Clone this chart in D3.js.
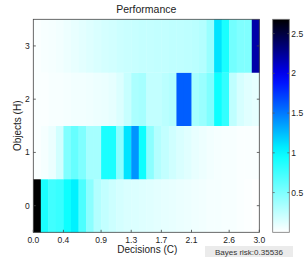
<!DOCTYPE html>
<html>
<head>
<meta charset="utf-8">
<script src="https://cdn.jsdelivr.net/npm/d3@7"></script>
<style>
  body { margin: 0; background: #fff; }
  text { font-family: "Liberation Sans", Arial, sans-serif; fill: #222; }
</style>
</head>
<body>
<div id="chart"></div>
<script>
// decisions (C): 30 bins of 0.1 from 0 to 3, objects (H): 0..3
var objects = [0, 1, 2, 3];
var xTicks = [0.0, 0.4, 0.9, 1.3, 1.7, 2.1, 2.6, 3.0];
var cbTicks = [0.5, 1, 1.5, 2, 2.5];
var binWidth = 0.1;

var row0 = [2.68, 0.9, 0.75, 0.78, 0.95, 1.05, 0.7, 0.45, 0.3, 0.24, 0.2, 0.17, 0.15, 0.14, 0.13, 0.12, 0.11, 0.1, 0.09, 0.08, 0.07, 0.06, 0.05, 0.04, 0.04, 0.03, 0.03, 0.02, 0.01, 0.0];
var row1 = [0.02, 0.04, 0.08, 0.18, 0.5, 0.6, 0.5, 0.35, 0.35, 0.9, 0.9, 0.45, 1.1, 1.4, 0.95, 0.45, 0.3, 0.24, 0.19, 0.15, 0.12, 0.09, 0.07, 0.05, 0.04, 0.03, 0.03, 0.02, 0.02, 0.02];
var row2 = [0.02, 0.02, 0.03, 0.03, 0.04, 0.05, 0.05, 0.06, 0.07, 0.08, 0.1, 0.14, 0.22, 0.33, 0.35, 0.24, 0.24, 0.27, 0.3, 1.6, 1.6, 0.35, 0.4, 0.5, 0.95, 0.8, 0.25, 0.16, 0.12, 0.1];
var row3 = [0.02, 0.03, 0.04, 0.05, 0.07, 0.09, 0.11, 0.13, 0.15, 0.17, 0.18, 0.2, 0.21, 0.22, 0.23, 0.23, 0.24, 0.24, 0.25, 0.25, 0.26, 0.27, 0.3, 0.4, 1.1, 0.9, 0.55, 0.5, 0.5, 2.2];
var rows = [row0, row1, row2, row3];
var bayesRisk = "0.35536";

var W = 306, H = 262;
var margin = {top: 19.3, left: 33.3, right: 46.7, bottom: 29.7};
var width = W - margin.left - margin.right,
    height = H - margin.top - margin.bottom;

var svg = d3.select("#chart").append("svg")
    .attr("width", W).attr("height", H);

var g = svg.append("g")
    .attr("transform", "translate(" + margin.left + "," + margin.top + ")");

var x = d3.scaleLinear().domain([0, 3]).range([0, width]);
var y = d3.scaleLinear().domain([-0.5, 3.5]).range([height, 0]);

var allVals = d3.merge(rows);
var vMin = d3.min(allVals), vMax = d3.max(allVals);
var color = d3.scaleLinear()
    .domain([vMin, 1.0, 1.95, vMax])
    .range(["#ffffff", "#00ffff", "#0000ff", "#000000"]);

var cells = [];
rows.forEach(function (r, i) {
    r.forEach(function (v, j) {
        cells.push({obj: objects[i], x0: j * binWidth, v: v});
    });
});

g.selectAll(".cell")
    .data(cells)
    .enter().append("rect")
    .attr("class", "cell")
    .attr("x", d => x(d.x0))
    .attr("y", d => y(d.obj + 0.5))
    .attr("width", x(binWidth) - x(0) + 0.4)
    .attr("height", y(-0.5) - y(0.5) + 0.2)
    .attr("fill", d => color(d.v));

// box
g.append("rect")
    .attr("width", width).attr("height", height)
    .attr("fill", "none").attr("stroke", "#444").attr("stroke-width", 0.8);

// x axis (inside ticks)
var xAxis = g.append("g").attr("transform", "translate(0," + height + ")");
xAxis.selectAll("line").data(xTicks).enter().append("line")
    .attr("x1", d => x(d)).attr("x2", d => x(d))
    .attr("y1", 0).attr("y2", -2.5)
    .attr("stroke", "#444").attr("stroke-width", 0.8);
xAxis.selectAll("text").data(xTicks).enter().append("text")
    .attr("x", d => x(d)).attr("y", 11)
    .attr("text-anchor", "middle")
    .attr("font-size", 8.5)
    .text(d => d.toFixed(1));

// y axis ticks left and right
var yAxis = g.append("g");
yAxis.selectAll(".tl").data(objects).enter().append("line")
    .attr("x1", 0).attr("x2", 2.5)
    .attr("y1", d => y(d)).attr("y2", d => y(d))
    .attr("stroke", "#444").attr("stroke-width", 0.8);
yAxis.selectAll(".tr").data(objects).enter().append("line")
    .attr("x1", width).attr("x2", width - 2.5)
    .attr("y1", d => y(d)).attr("y2", d => y(d))
    .attr("stroke", "#444").attr("stroke-width", 0.8);
yAxis.selectAll("text").data(objects).enter().append("text")
    .attr("x", -3.5).attr("y", d => y(d) + 3)
    .attr("text-anchor", "end")
    .attr("font-size", 8.5)
    .text(d => d);

// labels
svg.append("text")
    .attr("x", margin.left + width / 2).attr("y", 13)
    .attr("text-anchor", "middle").attr("font-size", 10.5)
    .text("Performance");
svg.append("text")
    .attr("x", margin.left + width / 2 + 1).attr("y", 253)
    .attr("text-anchor", "middle").attr("font-size", 10)
    .text("Decisions (C)");
svg.append("text")
    .attr("transform", "translate(21," + (margin.top + height / 2) + ") rotate(-90)")
    .attr("text-anchor", "middle").attr("font-size", 10)
    .text("Objects (H)");

// colorbar
var cbX = 272.7, cbW = 16.6;
var cb = d3.scaleLinear().domain([vMin, vMax]).range([margin.top + height, margin.top]);
var defs = svg.append("defs");
var grad = defs.append("linearGradient").attr("id", "cbgrad")
    .attr("x1", 0).attr("y1", 1).attr("x2", 0).attr("y2", 0);
grad.selectAll("stop").data(d3.range(0, 1.0001, 0.05)).enter().append("stop")
    .attr("offset", d => d)
    .attr("stop-color", d => color(vMin + d * (vMax - vMin)));
svg.append("rect")
    .attr("x", cbX).attr("y", margin.top)
    .attr("width", cbW).attr("height", height)
    .attr("fill", "url(#cbgrad)")
    .attr("stroke", "#777").attr("stroke-width", 0.8);
svg.selectAll(".cbl").data(cbTicks).enter().append("line")
    .attr("x1", cbX).attr("x2", cbX + 2)
    .attr("y1", d => cb(d)).attr("y2", d => cb(d))
    .attr("stroke", "#555").attr("stroke-width", 0.7);
svg.selectAll(".cbr").data(cbTicks).enter().append("line")
    .attr("x1", cbX + cbW).attr("x2", cbX + cbW - 2)
    .attr("y1", d => cb(d)).attr("y2", d => cb(d))
    .attr("stroke", "#555").attr("stroke-width", 0.7);
svg.selectAll(".cbt").data(cbTicks).enter().append("text")
    .attr("x", cbX + cbW + 2).attr("y", d => cb(d) + 3)
    .attr("font-size", 8.5)
    .text(d => d);

// Bayes risk box
svg.append("rect")
    .attr("x", 205).attr("y", 246)
    .attr("width", 88).attr("height", 11)
    .attr("fill", "#ebebeb");
svg.append("text")
    .attr("x", 249).attr("y", 254.5)
    .attr("text-anchor", "middle").attr("font-size", 8)
    .style("fill", "#333")
    .text("Bayes risk:" + bayesRisk);
</script>
</body>
</html>
